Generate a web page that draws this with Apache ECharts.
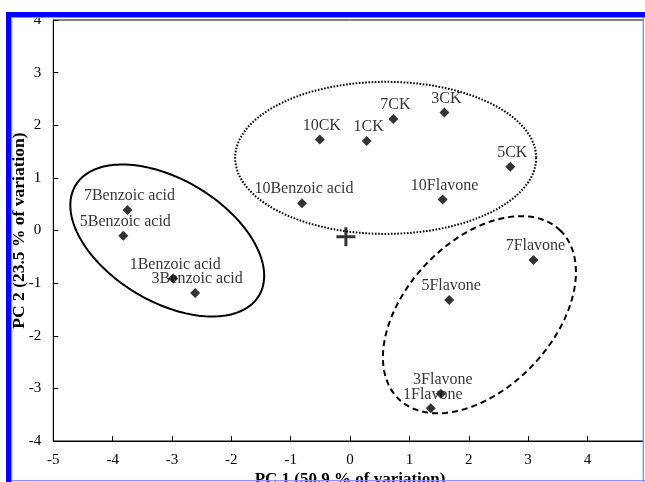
<!DOCTYPE html>
<html>
<head>
<meta charset="utf-8">
<script src="https://cdn.jsdelivr.net/npm/echarts@6/dist/echarts.min.js"></script>
<style>
html,body{margin:0;padding:0;background:#fff;}
#chart{width:645px;height:482px;}
</style>
</head>
<body>
<div id="chart"></div>
<script>
// ---- data ----
const labels = ['7Benzoic acid','5Benzoic acid','1Benzoic acid','3Benzoic acid','10Benzoic acid',
  '10CK','1CK','7CK','3CK','5CK','10Flavone','7Flavone','5Flavone','3Flavone','1Flavone'];
const pc1 = [-3.75,-3.82,-2.98,-2.61,-0.81,-0.51,0.28,0.73,1.59,2.70,1.56,3.09,1.67,1.53,1.36];
const pc2 = [0.39,-0.10,-0.91,-1.19,0.52,1.73,1.70,2.12,2.24,1.21,0.59,-0.56,-1.32,-3.10,-3.38];

// centroid marker (+)
const centroidX = [-0.07];
const centroidY = [-0.12];

// group ellipses: centre and two conjugate half-axis vectors, in data units
const groupNames = ['Benzoic acid','CK','Flavone'];
const ellipseCx = [-3.08, 0.60, 2.18];
const ellipseCy = [-0.19, 1.38, -1.60];
const ellipseUx = [1.545, 2.536, 1.357];
const ellipseUy = [-1.048, 0.0, 1.606];
const ellipseVx = [-0.529, 0.0, 0.896];
const ellipseVy = [-0.994, 1.445, -0.964];

const xTicks = [-5,-4,-3,-2,-1,0,1,2,3,4,5];
const yTicks = [-4,-3,-2,-1,0,1,2,3,4];

// ---- styles ----
const SERIF = '"Liberation Serif","Times New Roman",serif';
const lineStyles = [
  {lineWidth: 2, lineDash: null},
  {lineWidth: 2, lineDash: [1.6, 1.6]},
  {lineWidth: 2, lineDash: [6, 4]}
];

const chart = echarts.init(document.getElementById('chart'), null, {renderer: 'canvas'});

const ellipseData = groupNames.map((n, i) => ({
  name: n,
  value: [ellipseCx[i], ellipseCy[i], ellipseUx[i], ellipseUy[i], ellipseVx[i], ellipseVy[i]]
}));

const option = {
  animation: false,
  backgroundColor: '#fff',
  grid: {
    left: 53.3, top: 20, width: 593.5, height: 421,
    containLabel: false, outerBoundsMode: 'none',
    show: true, borderColor: '#000', borderWidth: 1, backgroundColor: 'transparent'
  },
  xAxis: {
    type: 'value', min: xTicks[0], max: xTicks[xTicks.length - 1], interval: 1,
    name: 'PC 1 (50.9 % of variation)', nameLocation: 'middle', nameGap: 30, nameMoveOverlap: false,
    nameTextStyle: {fontFamily: SERIF, fontWeight: 'bold', fontSize: 17, color: '#000'},
    axisLine: {show: true, onZero: false, lineStyle: {color: '#000', width: 1}},
    axisTick: {show: true, inside: true, length: 5, lineStyle: {color: '#000'}},
    axisLabel: {fontFamily: SERIF, fontSize: 15, color: '#000', margin: 12},
    splitLine: {show: false}
  },
  yAxis: {
    type: 'value', min: yTicks[0], max: yTicks[yTicks.length - 1], interval: 1,
    name: 'PC 2 (23.5 % of variation)', nameLocation: 'middle', nameGap: 25, nameMoveOverlap: false,
    nameTextStyle: {fontFamily: SERIF, fontWeight: 'bold', fontSize: 17.5, color: '#000'},
    axisLine: {show: true, onZero: false, lineStyle: {color: '#000', width: 1}},
    axisTick: {show: true, inside: true, length: 5, lineStyle: {color: '#000'}},
    axisLabel: {fontFamily: SERIF, fontSize: 15, color: '#000', margin: 12},
    splitLine: {show: false}
  },
  series: [
    {
      type: 'custom',
      name: 'groups',
      coordinateSystem: 'cartesian2d',
      data: ellipseData,
      encode: {x: 0, y: 1},
      z: 2,
      silent: true,
      renderItem: function (params, api) {
        const i = params.dataIndex;
        const cx = api.value(0), cy = api.value(1);
        const ux = api.value(2), uy = api.value(3);
        const vx = api.value(4), vy = api.value(5);
        const pts = [];
        const N = 180;
        for (let k = 0; k < N; k++) {
          const t = 2 * Math.PI * k / N;
          const c = Math.cos(t), s = Math.sin(t);
          pts.push(api.coord([cx + ux * c + vx * s, cy + uy * c + vy * s]));
        }
        const st = lineStyles[i];
        return {
          type: 'polygon',
          shape: {points: pts},
          style: {fill: null, stroke: '#000', lineWidth: st.lineWidth, lineDash: st.lineDash}
        };
      }
    },
    {
      type: 'scatter',
      name: 'samples',
      z: 5,
      symbol: 'diamond',
      symbolSize: 10,
      itemStyle: {color: '#000'},
      data: labels.map((n, i) => ({name: n, value: [pc1[i], pc2[i]]})),
      label: {
        show: true, position: 'top', distance: 1, offset: [2, 0],
        formatter: p => p.name,
        fontFamily: SERIF, fontSize: 16, color: '#000'
      }
    },
    {
      type: 'scatter',
      name: 'centroid',
      z: 5,
      symbol: 'path://M8,0H11V8H19V11H11V19H8V11H0V8H8Z',
      symbolSize: 19,
      itemStyle: {color: '#000'},
      data: centroidX.map((x, i) => [x, centroidY[i]])
    }
  ],
  graphic: [
    {type: 'rect', z: 100, shape: {x: 6, y: 12, width: 639, height: 5}, style: {fill: '#0000ff'}},
    {type: 'rect', z: 100, shape: {x: 6, y: 12, width: 5, height: 470}, style: {fill: '#0000ff'}},
    {type: 'rect', z: 100, shape: {x: 11, y: 17, width: 1.3, height: 465}, style: {fill: '#8c8cff'}},
    {type: 'rect', z: 100, shape: {x: 11, y: 17, width: 634, height: 1}, style: {fill: '#8c8cff'}},
    {type: 'rect', z: 100, shape: {x: 642.6, y: 17, width: 1.4, height: 465}, style: {fill: '#8c8cff'}},
    {type: 'rect', z: 100, shape: {x: 11, y: 480, width: 634, height: 1.2}, style: {fill: '#8c8cff'}},
    {type: 'rect', z: 99, shape: {x: 644, y: 17, width: 1, height: 465}, style: {fill: '#fff'}}
  ]
};

chart.setOption(option);
</script>
</body>
</html>
